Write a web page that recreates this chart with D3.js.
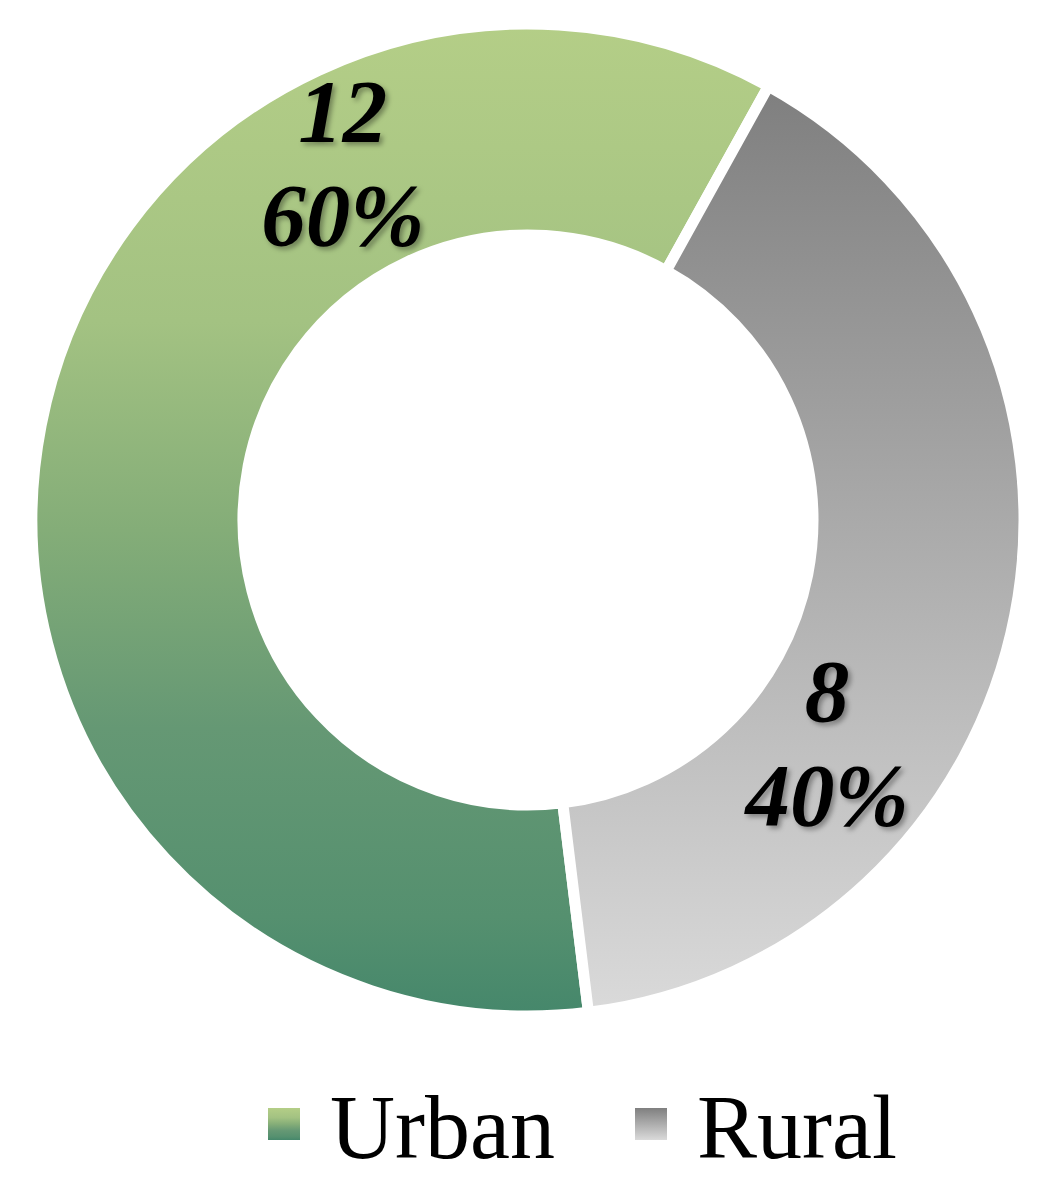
<!DOCTYPE html>
<html>
<head>
<meta charset="utf-8">
<script src="https://cdn.jsdelivr.net/npm/d3@7"></script>
<style>
  body { margin: 0; background: #fff; }
  text { font-family: "Liberation Serif", "Times New Roman", serif; }
</style>
</head>
<body>
<div id="chart"></div>
<script>
var categories = ["Urban", "Rural"];
var values = [12, 8];
var percentLabels = ["60%", "40%"];

// gradient stops (offset, colour) per category, top to bottom
var urbanStops = [[0, "#b4ce87"], [0.3, "#a3c282"], [0.51, "#84ad78"], [0.71, "#659874"], [0.9, "#55906f"], [1, "#45876b"]];
var ruralStops = [[0, "#7f7f7f"], [1, "#dadada"]];
var gradientStops = [urbanStops, ruralStops];

var svgWidth = 1056;
var svgHeight = 1200;
var cx = 528, cy = 520;
var outerR = 496, innerR = 285;

var svg = d3.select("#chart")
  .append("svg")
  .attr("width", svgWidth)
  .attr("height", svgHeight);

var defs = svg.append("defs");

// vertical gradient per category, used by slices and legend swatches
categories.forEach(function(c, i) {
  var g = defs.append("linearGradient")
    .attr("id", "grad" + i)
    .attr("x1", 0).attr("y1", 0)
    .attr("x2", 0).attr("y2", 1);
  gradientStops[i].forEach(function(s) {
    g.append("stop").attr("offset", s[0]).attr("stop-color", s[1]);
  });
});

var shadow = defs.append("filter").attr("id", "shadow")
  .attr("x", "-20%").attr("y", "-20%").attr("width", "140%").attr("height", "140%");
shadow.append("feDropShadow")
  .attr("dx", 3).attr("dy", 3).attr("stdDeviation", 2.5)
  .attr("flood-color", "#000").attr("flood-opacity", 0.35);

// Urban starts at ~173deg and runs clockwise round to the top-right gap
var startAngle = 173 * Math.PI / 180;
var pie = d3.pie()
  .sort(null)
  .startAngle(startAngle)
  .endAngle(startAngle + 2 * Math.PI);

var arc = d3.arc().innerRadius(innerR).outerRadius(outerR);

var chartGroup = svg.append("g")
  .attr("transform", `translate(${cx}, ${cy})`);

var slices = pie(values);

chartGroup.selectAll("path")
  .data(slices)
  .enter()
  .append("path")
  .attr("d", arc)
  .attr("fill", (d, i) => `url(#grad${i})`)
  .attr("stroke", "#fff")
  .attr("stroke-width", 11)
  .attr("stroke-linejoin", "miter");

// labels were dragged in the original, so place them by angle/radius
var labelAngles = [-27.3, 126.5];
var labelRadius = [404, 372];

var labels = chartGroup.selectAll("g.label")
  .data(slices)
  .enter()
  .append("g")
  .attr("class", "label")
  .attr("transform", function(d, i) {
    var a = labelAngles[i] * Math.PI / 180;
    return `translate(${labelRadius[i] * Math.sin(a)}, ${-labelRadius[i] * Math.cos(a)})`;
  })
  .attr("filter", "url(#shadow)");

labels.append("text")
  .attr("text-anchor", "middle")
  .attr("y", -20)
  .style("font-size", "89px")
  .style("font-weight", "bold")
  .style("font-style", "italic")
  .text(d => d.data);

labels.append("text")
  .attr("text-anchor", "middle")
  .attr("y", 84)
  .style("font-size", "89px")
  .style("font-weight", "bold")
  .style("font-style", "italic")
  .text((d, i) => percentLabels[i]);

// Legend
var legendX = [268, 635];
var legend = svg.selectAll("g.legend")
  .data(categories)
  .enter()
  .append("g")
  .attr("class", "legend")
  .attr("transform", (d, i) => `translate(${legendX[i]}, 1108)`);

legend.append("rect")
  .attr("width", 32)
  .attr("height", 32)
  .attr("fill", (d, i) => `url(#grad${i})`);

legend.append("text")
  .attr("x", 62)
  .attr("y", 50)
  .style("font-size", "90px")
  .text(d => d);
</script>
</body>
</html>
